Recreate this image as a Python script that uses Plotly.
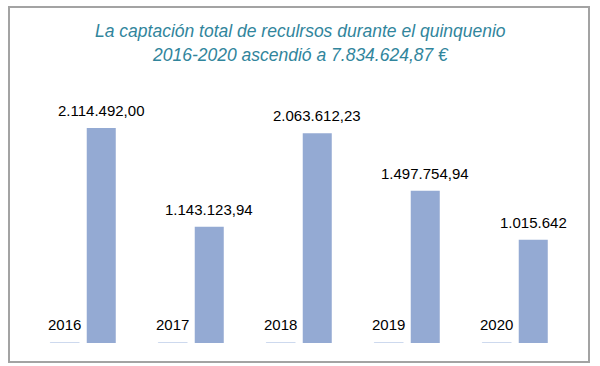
import plotly.graph_objects as go

years = [2016, 2017, 2018, 2019, 2020]
year_labels = ["2016", "2017", "2018", "2019", "2020"]
values = [2114492.00, 1143123.94, 2063612.23, 1497754.94, 1015642]
value_labels = ["2.114.492,00", "1.143.123,94", "2.063.612,23", "1.497.754,94", "1.015.642"]

title_l1 = "La captación total de reculrsos durante el quinquenio"
title_l2 = "2016-2020 ascendió a 7.834.624,87 €"

W, H = 600, 366
ml, mr, mt, mb = 29, 31, 100, 23
pw, ph = W - ml - mr, H - mt - mb
bargap, bargroupgap = 0.324, 0.205
half_slot = (1 - bargap) / 4  # offset of each bar centre from the category centre

label_font = dict(size=15, color="#000000", family="Liberation Sans, Arial")
title_font = dict(family="Liberation Sans, Arial", size=17.5, color="#31859c", style="italic")

fig = go.Figure()
fig.add_trace(go.Bar(
    x=years, y=years,
    marker=dict(color="#c6d4ec", line=dict(color="#c6d4ec", width=1)),
    hoverinfo="skip", showlegend=False,
))
fig.add_trace(go.Bar(
    x=years, y=values,
    marker=dict(color="#94aad3", line=dict(width=0)),
    showlegend=False,
))

for yr, lab in zip(years, year_labels):
    fig.add_annotation(x=yr - half_slot, y=yr, text=lab, showarrow=False,
                       xanchor="center", yanchor="bottom", yshift=8, font=label_font)
for yr, v, lab in zip(years, values, value_labels):
    fig.add_annotation(x=yr + half_slot, y=v, text=lab, showarrow=False,
                       xanchor="center", yanchor="bottom", yshift=7, font=label_font)

def px_x(p):
    return (p - ml) / pw

def px_y(p):
    return (H - mb - p) / ph

fig.add_annotation(xref="paper", yref="paper", x=px_x(300), y=px_y(31), text=title_l1,
                   showarrow=False, xanchor="center", yanchor="middle", font=title_font)
fig.add_annotation(xref="paper", yref="paper", x=px_x(300), y=px_y(55), text=title_l2,
                   showarrow=False, xanchor="center", yanchor="middle", font=title_font)

fig.add_shape(type="rect", xref="paper", yref="paper",
              x0=px_x(9), x1=px_x(589), y0=px_y(362), y1=px_y(7),
              line=dict(color="#a3a3a3", width=2), layer="below")

fig.update_layout(
    width=W, height=H,
    margin=dict(l=ml, r=mr, t=mt, b=mb),
    paper_bgcolor="white", plot_bgcolor="white",
    barmode="group", bargap=bargap, bargroupgap=bargroupgap,
    xaxis=dict(range=[2015.5, 2020.5], showticklabels=False, showgrid=False,
               zeroline=False, showline=False, ticks=""),
    yaxis=dict(range=[0, ph / 101.7e-6], showticklabels=False, showgrid=False,
               zeroline=False, showline=False, ticks=""),
)

fig.write_html("out.html", config={"displayModeBar": False},
               post_script="document.body.style.margin='0';")
